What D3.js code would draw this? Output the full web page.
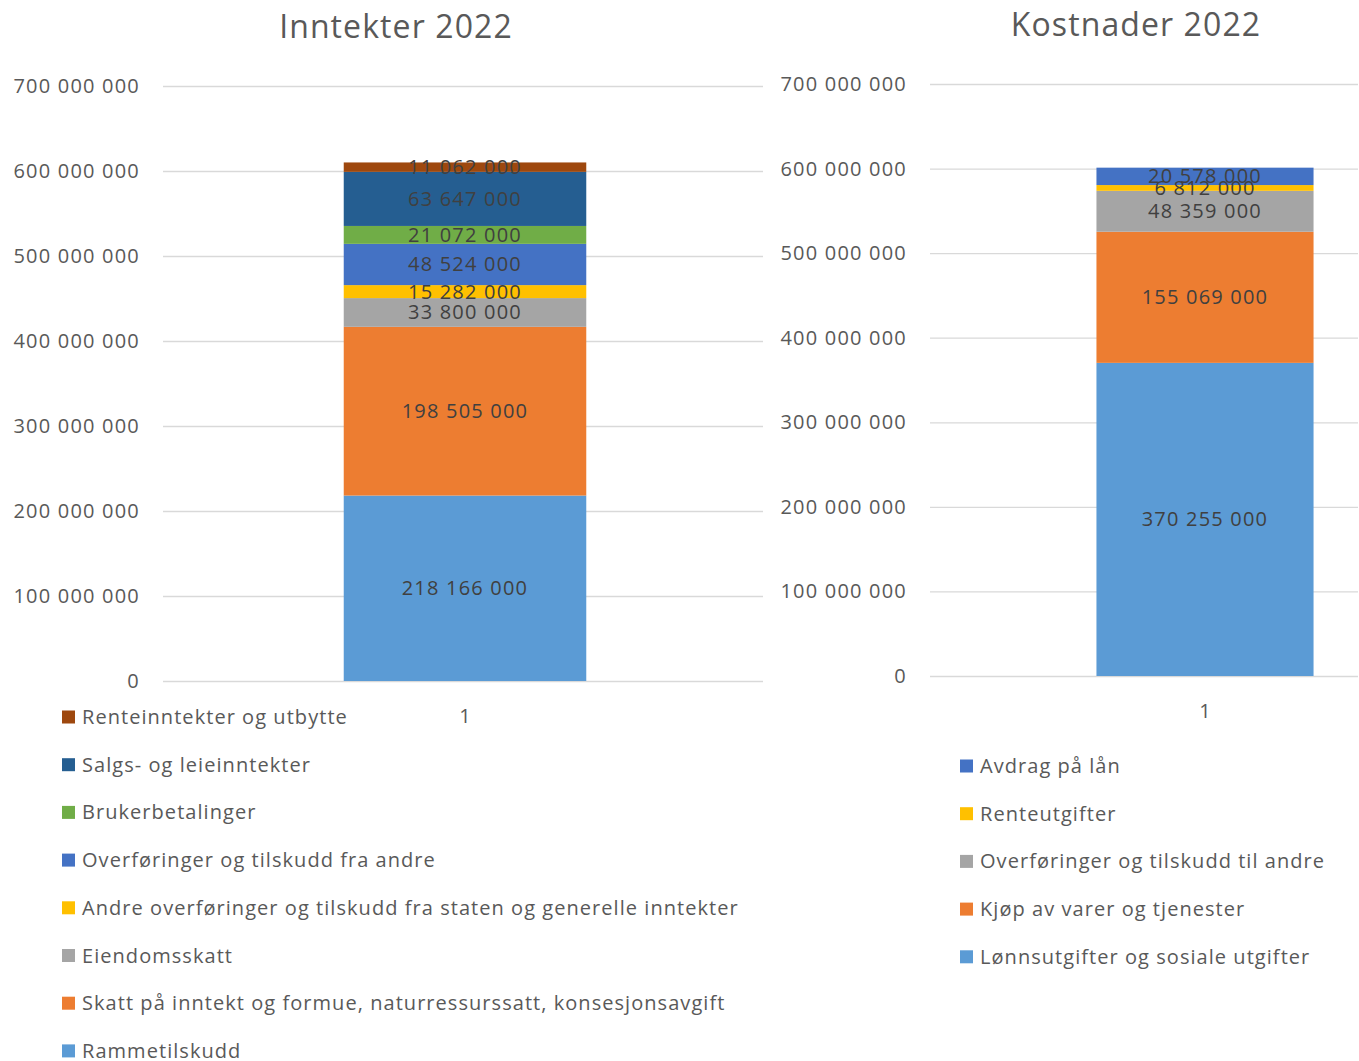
<!DOCTYPE html>
<html>
<head>
<meta charset="utf-8">
<script src="https://cdn.jsdelivr.net/npm/d3@7"></script>
<style>
  body { margin: 0; background: #fff; }
  text { font-family: "Open Sans", "Noto Sans", sans-serif; }
</style>
</head>
<body>
<div id="chart"></div>
<script>
// income series (bottom to top)
var incomeNames = ['Rammetilskudd', 'Skatt på inntekt og formue, naturressurssatt, konsesjonsavgift',
  'Eiendomsskatt', 'Andre overføringer og tilskudd fra staten og generelle inntekter',
  'Overføringer og tilskudd fra andre', 'Brukerbetalinger', 'Salgs- og leieinntekter',
  'Renteinntekter og utbytte'];
var incomeValues = [218166000, 198505000, 33800000, 15282000, 48524000, 21072000, 63647000, 11062000];
var incomeColors = ['#5B9BD5', '#ED7D31', '#A5A5A5', '#FFC000', '#4472C4', '#70AD47', '#255E91', '#9E480E'];

// cost series (bottom to top)
var costNames = ['Lønnsutgifter og sosiale utgifter', 'Kjøp av varer og tjenester',
  'Overføringer og tilskudd til andre', 'Renteutgifter', 'Avdrag på lån'];
var costValues = [370255000, 155069000, 48359000, 6812000, 20578000];
var costColors = ['#5B9BD5', '#ED7D31', '#A5A5A5', '#FFC000', '#4472C4'];

var categories = ['1'];
var yTicks = [0, 100000000, 200000000, 300000000, 400000000, 500000000, 600000000, 700000000];

var W = 1359, H = 1061;
var svg = d3.select('#chart').append('svg').attr('width', W).attr('height', H);

var nf = d3.formatLocale({ decimal: ',', thousands: ' ', grouping: [3], currency: ['', ''] }).format(',');

function drawChart(opt) {
  var g = svg.append('g');
  var y = d3.scaleLinear().domain([0, 700000000]).range([opt.y0, opt.y1]);
  var x = d3.scaleBand().domain(categories).range([opt.x0, opt.bandEnd])
    .paddingInner(opt.pad).paddingOuter(opt.pad);

  // title
  g.append('text').attr('x', opt.titleX).attr('y', opt.y1 - 48)
    .attr('text-anchor', 'middle').attr('font-size', 32).attr('fill', '#595959')
    .attr('letter-spacing', 1.1)
    .text(opt.title);

  // gridlines
  g.selectAll('line.grid').data(yTicks).enter().append('line')
    .attr('x1', opt.x0).attr('x2', opt.x1)
    .attr('y1', function (d) { return y(d) + 0.5; })
    .attr('y2', function (d) { return y(d) + 0.5; })
    .attr('stroke', '#D9D9D9').attr('stroke-width', 1.3);

  // y axis labels
  g.selectAll('text.ytick').data(yTicks).enter().append('text')
    .attr('x', opt.x0 - 23).attr('y', function (d) { return y(d); })
    .attr('dy', '0.35em').attr('text-anchor', 'end')
    .attr('font-size', 20).attr('fill', '#595959').attr('letter-spacing', 1.2)
    .text(function (d) { return nf(d); });

  // stacked segments
  var stack = [], acc = 0;
  opt.values.forEach(function (v, i) {
    stack.push({ v: v, lo: acc, hi: acc + v, c: opt.colors[i] });
    acc += v;
  });
  var bx = x(categories[0]), bw = x.bandwidth();
  g.selectAll('rect.seg').data(stack).enter().append('rect')
    .attr('x', bx).attr('width', bw)
    .attr('y', function (d) { return y(d.hi); })
    .attr('height', function (d) { return y(d.lo) - y(d.hi); })
    .attr('fill', function (d) { return d.c; });

  g.selectAll('text.lbl').data(stack).enter().append('text')
    .attr('x', bx + bw / 2)
    .attr('y', function (d) { return y((d.lo + d.hi) / 2); })
    .attr('dy', '0.35em').attr('text-anchor', 'middle')
    .attr('font-size', 20).attr('fill', '#404040').attr('letter-spacing', 1.2)
    .text(function (d) { return nf(d.v); });

  // category label
  g.append('text').attr('x', bx + bw / 2).attr('y', opt.y0 + 35)
    .attr('dy', '0.35em').attr('text-anchor', 'middle')
    .attr('font-size', 20).attr('fill', '#595959').text(categories[0]);

  // legend (top series first)
  var items = opt.names.map(function (n, i) { return { n: n, c: opt.colors[i] }; }).reverse();
  var lg = g.selectAll('g.leg').data(items).enter().append('g')
    .attr('transform', function (d, i) { return 'translate(' + opt.legX + ',' + (opt.legY + i * 47.7) + ')'; });
  lg.append('rect').attr('x', 0).attr('y', -6.5).attr('width', 13).attr('height', 13)
    .attr('fill', function (d) { return d.c; });
  lg.append('text').attr('x', 20).attr('y', 0).attr('dy', '0.35em')
    .attr('font-size', 20).attr('fill', '#595959').attr('letter-spacing', 1.05)
    .text(function (d) { return d.n; });
}

drawChart({
  title: 'Inntekter 2022', titleX: 396,
  x0: 163, x1: 763, bandEnd: 767, y0: 681, y1: 86, pad: 0.427,
  values: incomeValues, colors: incomeColors, names: incomeNames,
  legX: 62, legY: 717
});

drawChart({
  title: 'Kostnader 2022', titleX: 1136,
  x0: 930, x1: 1358, bandEnd: 1480, y0: 676, y1: 84, pad: 0.434,
  values: costValues, colors: costColors, names: costNames,
  legX: 960, legY: 766
});
</script>
</body>
</html>
